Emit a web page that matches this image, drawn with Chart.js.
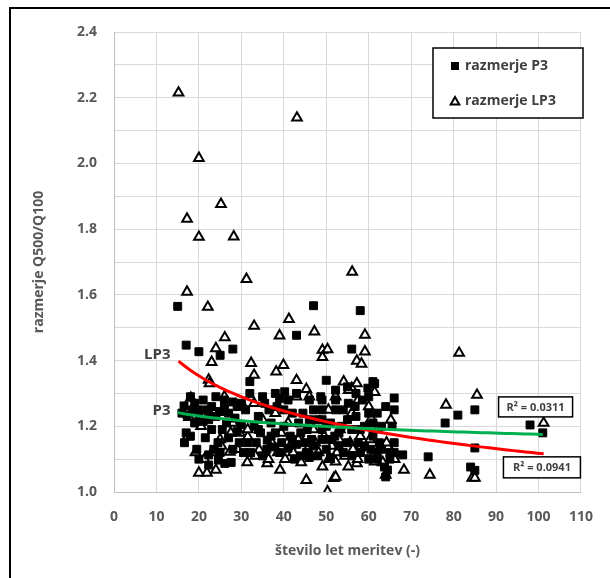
<!DOCTYPE html>
<html>
<head>
<meta charset="utf-8">
<script src="https://cdn.jsdelivr.net/npm/chart.js@4.4.0/dist/chart.umd.min.js"></script>
<style>
  html, body { margin: 0; padding: 0; background: #fff; }
  #wrap { width: 610px; height: 578px; }
</style>
</head>
<body>
<div id="wrap"><canvas id="chart" width="610" height="578"></canvas></div>
<script>
// P3 ratios: years of record vs Q500/Q100
const p3Years = [
  15, 47, 58, 17, 20, 25, 28, 43, 56, 32, 50, 61, 66, 68, 64, 81, 78, 85, 85, 74, 84, 85, 98, 101,
  16.5, 17.2, 18.5, 17, 16.6, 18, 20, 21, 22.3, 22.3, 23, 21.5, 24, 24.5, 25.5, 26, 26.5, 27, 28, 28.5,
  28, 29, 30, 20, 22.3, 22.3, 24.6, 26.1, 27.6, 19.5, 23.5, 25, 29.5, 30.5, 31,
  32, 33, 34.5, 36.1, 37.6, 39, 41, 43, 45.3, 46, 31.5, 32.2, 35, 36.5, 38.4, 39, 40.2, 41, 42, 43.5,
  44.5, 45.5, 46.5, 34, 35.5, 37, 38, 40, 41.5, 42.5, 44, 48.7, 49, 49, 49, 49, 49, 50, 52.2, 52.2,
  52.2, 51, 52, 53, 54, 55.2, 56.8, 55, 56, 57.5, 58, 59.8, 61.4, 60, 59, 61, 60.5, 62, 63, 62.5,
  63.7, 64.4, 65, 66, 64, 48, 51, 47, 46, 53.5, 57, 58.5, 60, 56, 62, 44, 39.5, 36, 33.5, 66, 65.5,
  57, 55, 43, 60,
  18, 19, 21, 23, 24, 26, 27, 29, 20, 25, 30, 19, 22, 16,
  62, 65, 63, 66,
  34, 37, 42, 45, 47, 53, 55, 58, 59, 61, 50, 51, 54, 48, 40, 38, 35, 46
];
const p3Ratio = [
  1.565, 1.567, 1.552, 1.447, 1.427, 1.416, 1.435, 1.477, 1.435, 1.336, 1.340, 1.336, 1.286, 1.113, 1.046, 1.234, 1.210, 1.250, 1.134, 1.107, 1.076, 1.066, 1.204, 1.180,
  1.262, 1.234, 1.250, 1.180, 1.150, 1.170, 1.250, 1.215, 1.244, 1.220, 1.190, 1.165, 1.230, 1.150, 1.190, 1.255, 1.210, 1.165, 1.274, 1.225,
  1.130, 1.185, 1.205, 1.100, 1.113, 1.082, 1.097, 1.087, 1.090, 1.130, 1.130, 1.120, 1.150, 1.120, 1.250,
  1.300, 1.200, 1.180, 1.158, 1.137, 1.120, 1.133, 1.145, 1.120, 1.105, 1.150, 1.120, 1.110, 1.250, 1.260, 1.285, 1.305, 1.280, 1.240, 1.210,
  1.240, 1.190, 1.160, 1.230, 1.270, 1.210, 1.180, 1.200, 1.170, 1.100, 1.180, 1.290, 1.280, 1.250, 1.220, 1.190, 1.160, 1.130, 1.310, 1.280,
  1.250, 1.210, 1.170, 1.140, 1.120, 1.270, 1.260, 1.220, 1.190, 1.150, 1.120, 1.316, 1.330, 1.240, 1.200, 1.170, 1.130, 1.240, 1.200, 1.150,
  1.076, 1.067, 1.120, 1.150, 1.260, 1.110, 1.105, 1.250, 1.220, 1.200, 1.230, 1.280, 1.100, 1.110, 1.100, 1.110, 1.150, 1.130, 1.150, 1.250, 1.200,
  1.300, 1.320, 1.300, 1.290,
  1.290, 1.270, 1.280, 1.260, 1.290, 1.280, 1.240, 1.260, 1.235, 1.245, 1.270, 1.210, 1.250, 1.240,
  1.120, 1.100, 1.130, 1.120,
  1.190, 1.170, 1.160, 1.150, 1.140, 1.180, 1.150, 1.190, 1.140, 1.210, 1.200, 1.160, 1.250, 1.220, 1.250, 1.300, 1.290, 1.280
];

// LP3 ratios
const lp3Years = [
  15.2, 43.1, 20, 25.2, 17.2, 20, 28.2, 31.2, 56.1, 17.2, 22.1, 33, 41.2, 47.2, 39, 26.1, 59.1, 81.3, 85.5, 78.2,
  101.2, 65.2, 68.3, 74.4, 84.4, 85, 24, 23, 22.3, 22.5, 18.1, 17.7, 17.3, 20, 21.9, 24, 27.3, 49.1, 50.3, 49.1,
  59.1, 57.2, 58.3, 32.3, 39.9, 38.2, 33, 43, 45.3, 46, 43, 54.1, 56, 57.5, 52.2, 60.6, 61.4, 31.5, 34.2, 36.1,
  39.1, 45.3, 49.1, 52.2, 51.8, 55.2, 57.2, 61.4, 64, 50.3, 29.6, 31.5, 55.3, 57.2, 52.2, 25, 28, 35, 41, 44,
  47, 53, 58, 62, 30.5, 38, 33, 20.5, 23.5, 26, 50.5, 56, 60,
  19.2, 21.3, 23.1, 25.3, 27.5, 29.1, 31.4, 33.3,
  36.4, 37.2, 38.6, 39.4, 40.3, 41.5, 42.2, 43.4, 44.1, 45.6, 46.3, 47.4, 48.2, 49.5, 50.6, 51.3, 52.5, 53.2,
  54.4, 55.6, 56.3, 57.4, 58.2, 59.6, 60.3, 61.2, 62.4, 63.3, 64.2, 65.4, 66.1
];
const lp3Ratio = [
  2.215, 2.139, 2.016, 1.876, 1.831, 1.776, 1.777, 1.648, 1.670, 1.609, 1.563, 1.505, 1.526, 1.488, 1.476, 1.470, 1.478, 1.423, 1.295, 1.265,
  1.210, 1.219, 1.067, 1.052, 1.043, 1.043, 1.437, 1.395, 1.341, 1.330, 1.286, 1.228, 1.168, 1.058, 1.058, 1.067, 1.122, 1.432, 1.434, 1.410,
  1.427, 1.399, 1.390, 1.392, 1.386, 1.366, 1.356, 1.340, 1.313, 1.290, 1.290, 1.336, 1.316, 1.280, 1.290, 1.224, 1.304, 1.168, 1.128, 1.087,
  1.067, 1.036, 1.077, 1.092, 1.042, 1.077, 1.087, 1.092, 1.052, 1.001, 1.180, 1.190, 1.310, 1.330, 1.046, 1.160, 1.210, 1.220, 1.210, 1.160,
  1.190, 1.160, 1.170, 1.190, 1.260, 1.240, 1.270, 1.200, 1.240, 1.290, 1.250, 1.240, 1.260,
  1.120, 1.100, 1.120, 1.140, 1.180, 1.130, 1.090, 1.110,
  1.100, 1.150, 1.120, 1.180, 1.100, 1.140, 1.120, 1.160, 1.090, 1.130, 1.110, 1.150, 1.120, 1.170, 1.100, 1.140, 1.120, 1.190,
  1.110, 1.150, 1.130, 1.100, 1.140, 1.120, 1.160, 1.110, 1.130, 1.090, 1.150, 1.120, 1.100
];

const r2P3 = '0.0311';
const r2LP3 = '0.0941';

const TEXT = '#404040';
const AXIS_TEXT = '#595959';
const FONT = '"Open Sans", "DejaVu Sans", sans-serif';

function toPoints(xs, ys) {
  return xs.map((x, i) => ({ x: x, y: ys[i] }));
}

// least-squares power trendline y = a * x^b (fitted in log-log space)
function powerTrend(xs, ys) {
  let n = xs.length, sx = 0, sy = 0, sxx = 0, sxy = 0;
  for (let i = 0; i < n; i++) {
    const lx = Math.log(xs[i]), ly = Math.log(ys[i]);
    sx += lx; sy += ly; sxx += lx * lx; sxy += lx * ly;
  }
  const b = (n * sxy - sx * sy) / (n * sxx - sx * sx);
  const a = Math.exp((sy - b * sx) / n);
  const lo = Math.min(...xs), hi = Math.max(...xs);
  const pts = [];
  for (let k = 0; k <= 60; k++) {
    const x = lo + (hi - lo) * k / 60;
    pts.push({ x: x, y: a * Math.pow(x, b) });
  }
  return pts;
}

function drawTriangle(ctx, x, y, r) {
  ctx.beginPath();
  ctx.moveTo(x, y - r);
  ctx.lineTo(x + r * 0.866, y + r * 0.5);
  ctx.lineTo(x - r * 0.866, y + r * 0.5);
  ctx.closePath();
  ctx.fillStyle = '#fff';
  ctx.fill();
  ctx.lineWidth = 2;
  ctx.strokeStyle = '#000';
  ctx.stroke();
}

function labelBox(ctx, text, cx, cy, w, h) {
  ctx.fillStyle = '#fff';
  ctx.fillRect(cx - w / 2, cy - h / 2, w, h);
  ctx.lineWidth = 1.5;
  ctx.strokeStyle = '#000';
  ctx.strokeRect(cx - w / 2, cy - h / 2, w, h);
  ctx.fillStyle = TEXT;
  ctx.font = 'bold 11px ' + FONT;
  ctx.textAlign = 'center';
  ctx.textBaseline = 'middle';
  ctx.fillText(text, cx, cy + 0.5);
}

const decor = {
  id: 'decor',
  beforeDraw(chart) {
    const ctx = chart.ctx;
    ctx.save();
    ctx.fillStyle = '#fff';
    ctx.fillRect(0, 0, chart.width, chart.height);
    ctx.strokeStyle = '#000';
    ctx.lineWidth = 2;
    ctx.beginPath();
    ctx.moveTo(10, chart.height);
    ctx.lineTo(10, 8);
    ctx.lineTo(chart.width, 8);
    ctx.stroke();
    ctx.restore();
  },
  afterDraw(chart) {
    const ctx = chart.ctx;
    const xs = chart.scales.x, ys = chart.scales.y;
    ctx.save();

    // legend
    const lx = 433, ly = 48, lw = 150, lh = 70;
    ctx.fillStyle = '#fff';
    ctx.fillRect(lx, ly, lw, lh);
    ctx.lineWidth = 1.5;
    ctx.strokeStyle = '#000';
    ctx.strokeRect(lx, ly, lw, lh);
    ctx.fillStyle = '#000';
    ctx.fillRect(451, 62, 8, 8);
    drawTriangle(ctx, 455, 102, 5);
    ctx.fillStyle = TEXT;
    ctx.font = 'bold 14px ' + FONT;
    ctx.textAlign = 'left';
    ctx.textBaseline = 'middle';
    ctx.fillText('razmerje P3', 465, 66);
    ctx.fillText('razmerje LP3', 465, 101);

    // series tags next to the trendlines
    ctx.font = 'bold 15px ' + FONT;
    ctx.textAlign = 'right';
    ctx.fillText('LP3', xs.getPixelForValue(13.3), ys.getPixelForValue(1.418));
    ctx.fillText('P3', xs.getPixelForValue(13.3), ys.getPixelForValue(1.246));

    // R² boxes
    labelBox(ctx, 'R\u00B2 = ' + r2P3, xs.getPixelForValue(99.3), ys.getPixelForValue(1.259), 74, 20);
    labelBox(ctx, 'R\u00B2 = ' + r2LP3, xs.getPixelForValue(100.8), ys.getPixelForValue(1.075), 77, 21);
    ctx.restore();
  }
};

new Chart(document.getElementById('chart'), {
  type: 'scatter',
  data: {
    datasets: [
      {
        label: 'trend P3',
        data: powerTrend(p3Years, p3Ratio),
        showLine: true,
        borderColor: '#00b050',
        borderWidth: 3,
        pointRadius: 0,
        tension: 0
      },
      {
        label: 'trend LP3',
        data: powerTrend(lp3Years, lp3Ratio),
        showLine: true,
        borderColor: '#ff0000',
        borderWidth: 3,
        pointRadius: 0,
        tension: 0
      },
      {
        label: 'razmerje P3',
        data: toPoints(p3Years, p3Ratio),
        pointStyle: 'rect',
        pointRadius: 5.6,
        backgroundColor: '#000',
        borderColor: '#000',
        borderWidth: 1
      },
      {
        label: 'razmerje LP3',
        data: toPoints(lp3Years, lp3Ratio),
        pointStyle: 'triangle',
        pointRadius: 5.6,
        backgroundColor: '#fff',
        borderColor: '#000',
        borderWidth: 2
      }
    ]
  },
  options: {
    responsive: false,
    animation: false,
    layout: { padding: { top: 32, right: 19, left: 0, bottom: 0 } },
    plugins: {
      legend: { display: false },
      tooltip: { enabled: false }
    },
    scales: {
      x: {
        type: 'linear',
        min: 0,
        max: 110,
        afterFit: s => { s.height = 86; },
        ticks: {
          stepSize: 10,
          padding: 17,
          color: AXIS_TEXT,
          font: { family: FONT, size: 14, weight: 'bold' }
        },
        grid: { color: '#d9d9d9', drawTicks: false },
        border: { color: '#bfbfbf', width: 1 },
        title: {
          display: true,
          text: 'število let meritev (-)',
          color: AXIS_TEXT,
          font: { family: FONT, size: 14, weight: 'bold' },
          padding: { top: 0, bottom: 19 }
        }
      },
      y: {
        min: 1,
        max: 2.4,
        afterFit: s => { s.width = 114; },
        ticks: {
          stepSize: 0.1,
          padding: 17,
          color: AXIS_TEXT,
          font: { family: FONT, size: 14, weight: 'bold' },
          callback: v => (Math.round(v * 10) % 2 === 0 ? v.toFixed(1) : '')
        },
        grid: { color: '#d9d9d9', drawTicks: false },
        border: { color: '#bfbfbf', width: 1 },
        title: {
          display: true,
          text: 'razmerje Q500/Q100',
          color: AXIS_TEXT,
          font: { family: FONT, size: 14, weight: 'bold' },
          padding: { top: 31, bottom: 0 }
        }
      }
    }
  },
  plugins: [decor]
});
</script>
</body>
</html>
